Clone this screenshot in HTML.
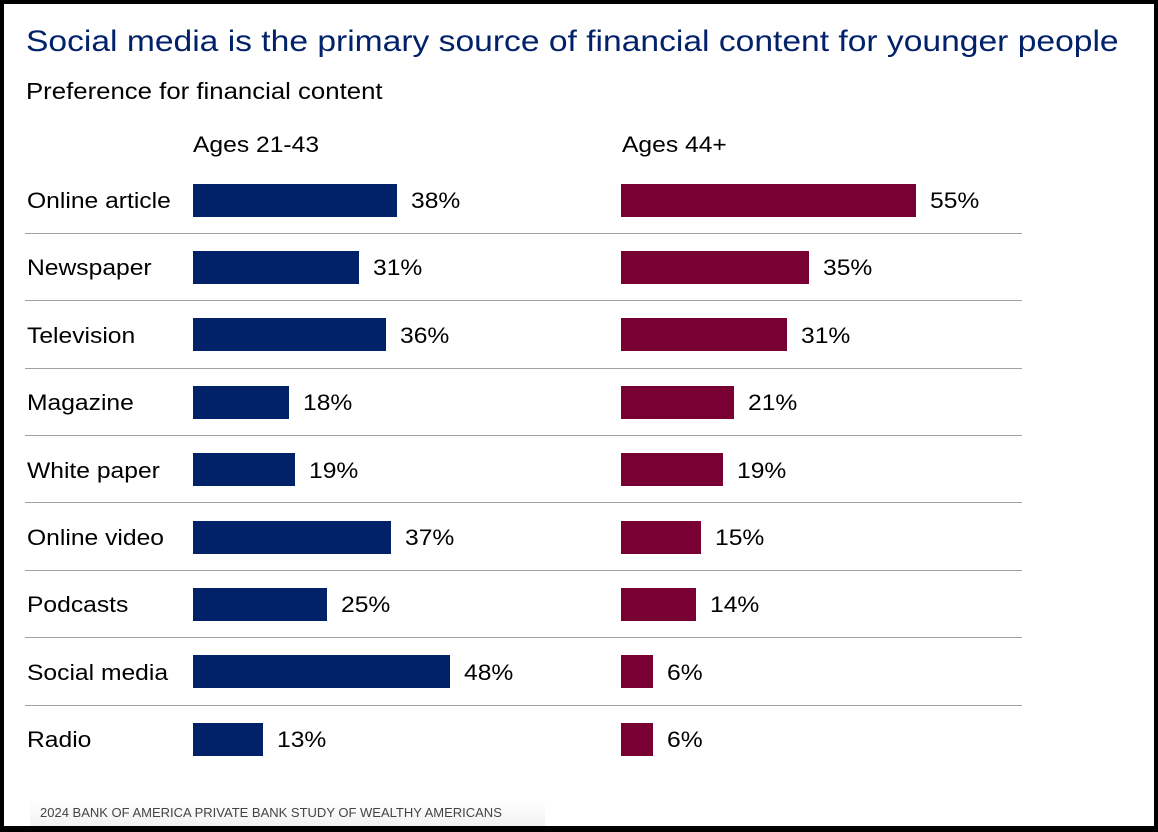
<!DOCTYPE html>
<html><head><meta charset="utf-8"><style>
body{margin:0;width:1158px;height:832px;overflow:hidden;background:#fff;font-family:"Liberation Sans",sans-serif}
#frame{position:absolute;left:0;top:0;width:1150px;height:822px;border:4px solid #000;border-bottom-width:6px;}
.t{position:absolute;white-space:nowrap;transform:scaleX(1.12);transform-origin:left center}
</style></head><body>
<div id="frame"></div>
<div class="t" style="left:26px;top:25px;font-size:30px;color:#012169">Social media is the primary source of financial content for younger people</div>
<div class="t" style="left:26px;top:78px;font-size:23px;color:#000">Preference for financial content</div>
<div class="t" style="left:193px;top:132px;font-size:22px">Ages 21-43</div>
<div class="t" style="left:622px;top:132px;font-size:22px">Ages 44+</div>
<div id="rows"></div>
<div style="position:absolute;white-space:nowrap;left:30px;top:800px;width:505px;height:26px;background:linear-gradient(#fff,#f2f2f2);font-size:13px;color:#444;padding-left:10px;line-height:26px">2024 BANK OF AMERICA PRIVATE BANK STUDY OF WEALTHY AMERICANS</div>
<script>
const categories=["Online article","Newspaper","Television","Magazine","White paper","Online video","Podcasts","Social media","Radio"];
const young=[38,31,36,18,19,37,25,48,13];
const old=[55,35,31,21,19,15,14,6,6];
const root=document.getElementById('rows');
const scale=5.36, x0a=193, x0b=621, top0=200, pitch=67.4;
function add(html){const d=document.createElement('div');d.innerHTML=html;const e=d.firstChild;root.appendChild(e);return e;}
categories.forEach((c,i)=>{
  const cy=top0+i*pitch;
  const lab=add(`<div class="t" style="left:27px;top:${cy-12}px;font-size:22px">${c}</div>`);
  
  
  [[young,x0a,'#012169','young'],[old,x0b,'#780032','old']].forEach(([arr,x0,col,key])=>{
    const w=arr[i]*scale;
    const b=add(`<div style="position:absolute;left:${x0}px;top:${Math.round(cy-16.5)}px;width:${w}px;height:33px;background:${col}"></div>`);
    
    
    const v=add(`<div class="t" style="left:${x0+w+14}px;top:${cy-12}px;font-size:22px">${arr[i]}%</div>`);
    
    
  });
  if(i<categories.length-1){
    const s=add(`<div style="position:absolute;left:25px;top:${Math.round(cy+pitch/2-1)}px;width:997px;height:1px;background:#a0a0a0"></div>`);
    
    
  }
});
</script>
</body></html>
